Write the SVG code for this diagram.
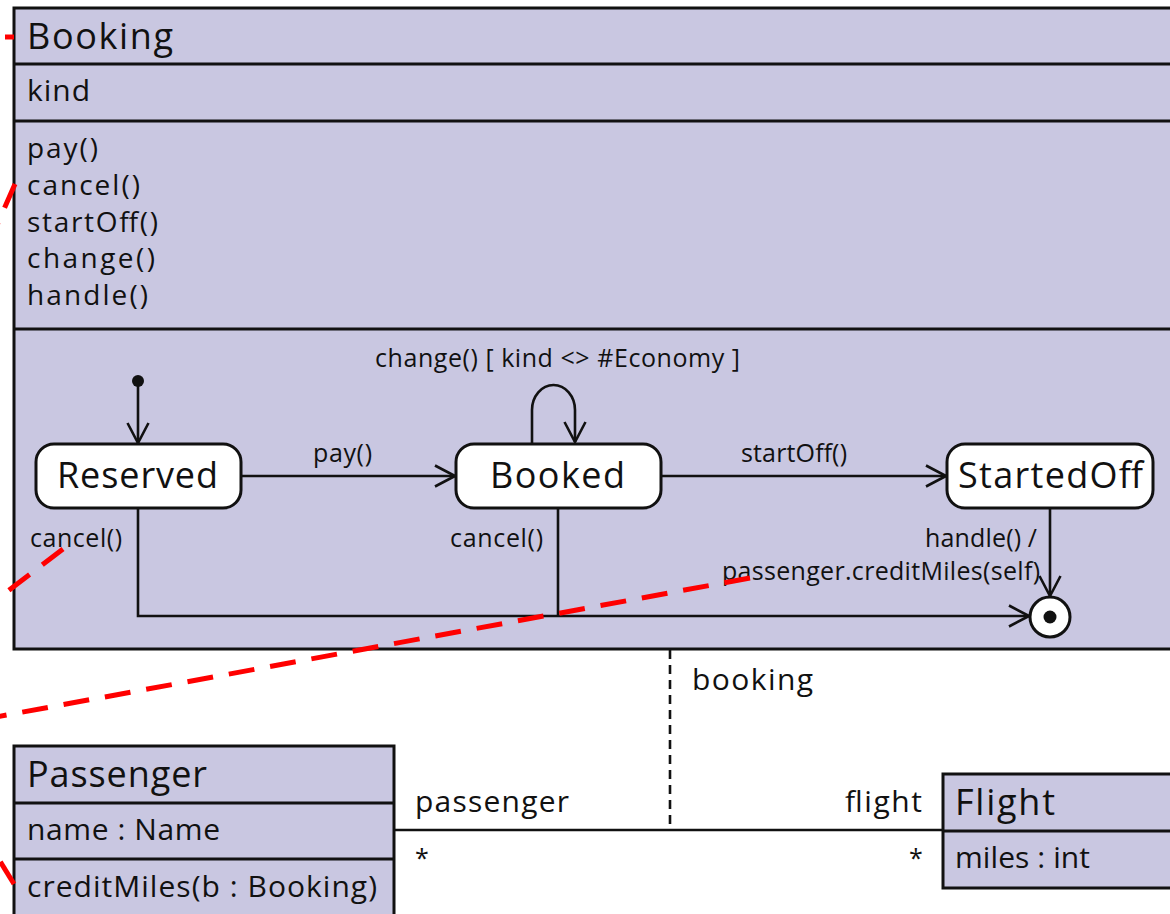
<svg xmlns="http://www.w3.org/2000/svg" width="1170" height="914" viewBox="0 0 1170 914">
<style>
.cls{fill:#c9c7e1;stroke:#111;stroke-width:3}
.div{stroke:#111;stroke-width:3;fill:none}
.state{fill:#fff;stroke:#111;stroke-width:3}
.tr{fill:none;stroke:#111;stroke-width:2.6}
.t{font-family:"Open Sans","DejaVu Sans",sans-serif;fill:#111}
.title{font-size:36px}
.attr{font-size:30px}
.op{font-size:28px}
.sn{font-size:36px}
.lbl{font-size:25px}
.red{fill:none;stroke:#ff0000;stroke-width:5;stroke-dasharray:26 16}
</style>
<defs>
<marker id="arr" viewBox="0 0 22 24" refX="21" refY="12" markerWidth="22" markerHeight="24" markerUnits="userSpaceOnUse" orient="auto">
<path d="M1,1.5 L21,12 L1,22.5" fill="none" stroke="#111" stroke-width="2.6" stroke-linejoin="miter"/>
</marker>
</defs>
<rect width="1170" height="914" fill="#fff"/>

<g id="booking">
<rect class="cls" x="14" y="8" width="1180" height="641"/>
<line class="div" x1="14" y1="64" x2="1180" y2="64"/>
<line class="div" x1="14" y1="121" x2="1180" y2="121"/>
<line class="div" x1="14" y1="329" x2="1180" y2="329"/>
<text class="t title" x="27" y="49" textLength="146" lengthAdjust="spacing">Booking</text>
<text class="t attr" x="27" y="101" textLength="63" lengthAdjust="spacing">kind</text>
<text class="t op" x="27" y="158" textLength="71" lengthAdjust="spacing">pay()</text>
<text class="t op" x="27" y="195" textLength="113" lengthAdjust="spacing">cancel()</text>
<text class="t op" x="27" y="232" textLength="131" lengthAdjust="spacing">startOff()</text>
<text class="t op" x="27" y="268" textLength="128" lengthAdjust="spacing">change()</text>
<text class="t op" x="27" y="305" textLength="121" lengthAdjust="spacing">handle()</text>
</g>

<g id="initial">
<circle cx="138" cy="381" r="6" fill="#111"/>
</g>
<g id="reserved">
<rect class="state" x="36" y="444" width="205" height="64" rx="18"/>
<text class="t sn" x="57" y="488" textLength="161" lengthAdjust="spacing">Reserved</text>
</g>
<g id="booked">
<rect class="state" x="456" y="444" width="205" height="64" rx="18"/>
<text class="t sn" x="490" y="488" textLength="135" lengthAdjust="spacing">Booked</text>
</g>
<g id="startedoff">
<rect class="state" x="947" y="444" width="206" height="64" rx="18"/>
<text class="t sn" x="958" y="488" textLength="185" lengthAdjust="spacing">StartedOff</text>
</g>
<g id="final">
<circle cx="1050" cy="617" r="20" fill="#fff" stroke="#111" stroke-width="3"/>
<circle cx="1050" cy="617" r="6.5" fill="#111"/>
</g>

<g id="connectors">
<line class="tr" x1="138" y1="386" x2="138" y2="443" marker-end="url(#arr)"/>
<line class="tr" x1="241" y1="476" x2="455" y2="476" marker-end="url(#arr)"/>
<path class="tr" d="M532,443 V410 A21.5,25 0 0 1 575,410 V442" marker-end="url(#arr)"/>
<line class="tr" x1="661" y1="476" x2="946" y2="476" marker-end="url(#arr)"/>
<line class="tr" x1="1050" y1="508" x2="1050" y2="596" marker-end="url(#arr)"/>
<path class="tr" d="M138,508 V616 H1029" marker-end="url(#arr)"/>
<line class="tr" x1="558" y1="508" x2="558" y2="616"/>
<line x1="670" y1="650" x2="670" y2="830" stroke="#111" stroke-width="2.6" stroke-dasharray="9 6"/>
<line x1="394" y1="830" x2="943" y2="830" stroke="#111" stroke-width="2.6"/>
<text class="t lbl" x="375" y="367" textLength="365" lengthAdjust="spacing">change() [ kind &lt;&gt; #Economy ]</text>
<text class="t lbl" x="313" y="462" textLength="59" lengthAdjust="spacing">pay()</text>
<text class="t lbl" x="741" y="462" textLength="106" lengthAdjust="spacing">startOff()</text>
<text class="t lbl" x="30" y="547" textLength="92" lengthAdjust="spacing">cancel()</text>
<text class="t lbl" x="450" y="547" textLength="93" lengthAdjust="spacing">cancel()</text>
<text class="t lbl" x="925" y="547" textLength="112" lengthAdjust="spacing">handle() /</text>
<text class="t lbl" x="722" y="580" textLength="318" lengthAdjust="spacing">passenger.creditMiles(self)</text>
<text class="t attr" x="692" y="690" textLength="121" lengthAdjust="spacing">booking</text>
<text class="t attr" x="415" y="812" textLength="154" lengthAdjust="spacing">passenger</text>
<text class="t attr" x="845" y="812" textLength="77" lengthAdjust="spacing">flight</text>
<text class="t lbl" x="415" y="867">*</text>
<text class="t lbl" x="909" y="867">*</text>
</g>

<g id="passenger">
<rect class="cls" x="14" y="746" width="380" height="180"/>
<line class="div" x1="14" y1="803" x2="394" y2="803"/>
<line class="div" x1="14" y1="859" x2="394" y2="859"/>
<text class="t title" x="27" y="787" textLength="180" lengthAdjust="spacing">Passenger</text>
<text class="t attr" x="27" y="840" textLength="193" lengthAdjust="spacing">name : Name</text>
<text class="t attr" x="27" y="897" textLength="350" lengthAdjust="spacing">creditMiles(b : Booking)</text>
</g>

<g id="flight">
<rect class="cls" x="943" y="774" width="240" height="114"/>
<line class="div" x1="943" y1="831" x2="1183" y2="831"/>
<text class="t title" x="955" y="815" textLength="100" lengthAdjust="spacing">Flight</text>
<text class="t attr" x="955" y="868" textLength="135" lengthAdjust="spacing">miles : int</text>
</g>

<g id="red-dashes">
<line class="red" x1="5" y1="37" x2="14" y2="37" style="stroke-dasharray:none"/>
<line class="red" x1="15" y1="184" x2="-6" y2="232"/>
<line class="red" x1="63" y1="549" x2="-4" y2="600"/>
<line class="red" x1="750" y1="578" x2="-4" y2="717"/>
<line class="red" x1="14" y1="884" x2="-2" y2="858"/>
</g>
</svg>
